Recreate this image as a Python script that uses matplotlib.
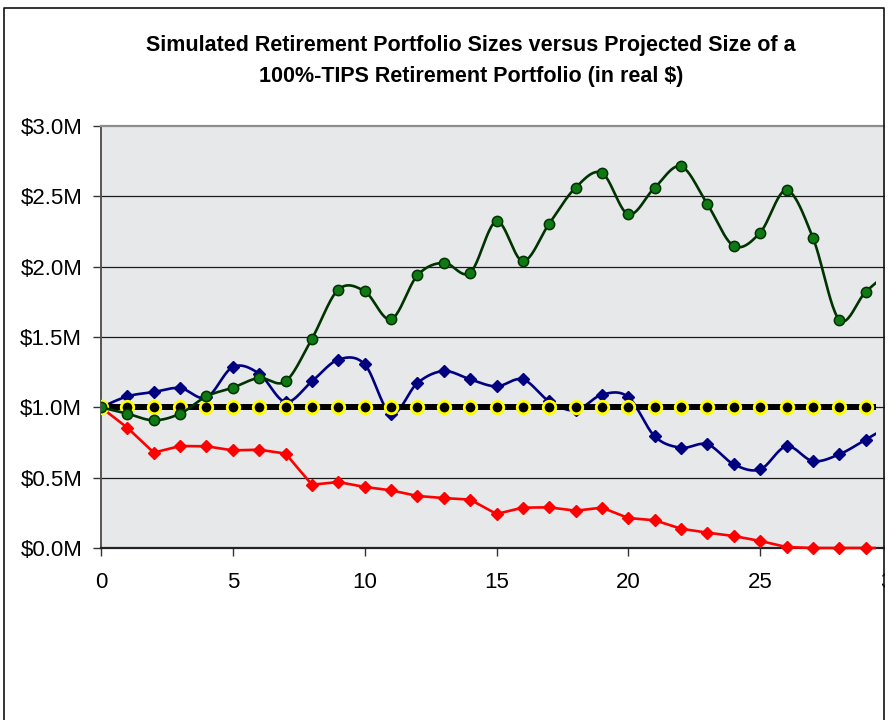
import numpy as np
import matplotlib
matplotlib.use("Agg")
import matplotlib.pyplot as plt
from matplotlib.lines import Line2D
from matplotlib.patches import Rectangle
from matplotlib.ticker import FuncFormatter, MultipleLocator

# years into retirement
years = list(range(31))

# portfolio size in $M (real)
tips = [1.0, 1.0, 1.0, 1.0, 1.0, 1.0, 1.0, 1.0, 1.0, 1.0,
        1.0, 1.0, 1.0, 1.0, 1.0, 1.0, 1.0, 1.0, 1.0, 1.0,
        1.0, 1.0, 1.0, 1.0, 1.0, 1.0, 1.0, 1.0, 1.0, 1.0, 1.0]
good = [1.000, 0.955, 0.908, 0.955, 1.078, 1.140, 1.209, 1.185, 1.488, 1.837,
        1.825, 1.626, 1.938, 2.028, 1.957, 2.322, 2.040, 2.306, 2.562, 2.666,
        2.372, 2.562, 2.713, 2.443, 2.147, 2.242, 2.543, 2.206, 1.623, 1.820, 1.98]
middle = [1.000, 1.078, 1.109, 1.137, 1.070, 1.287, 1.239, 1.038, 1.185, 1.339,
          1.306, 0.955, 1.173, 1.258, 1.199, 1.149, 1.199, 1.043, 0.979, 1.090,
          1.073, 0.794, 0.713, 0.737, 0.595, 0.559, 0.723, 0.618, 0.666, 0.770, 0.88]
bad = [1.000, 0.855, 0.678, 0.725, 0.723, 0.694, 0.699, 0.671, 0.450, 0.469,
       0.434, 0.410, 0.370, 0.355, 0.344, 0.242, 0.287, 0.289, 0.265, 0.287,
       0.213, 0.197, 0.137, 0.109, 0.085, 0.050, 0.007, 0.0, 0.0, 0.0, 0.0]

TITLE = ("Simulated Retirement Portfolio Sizes versus Projected Size of a\n"
         "100%-TIPS Retirement Portfolio (in real $)")


def excel_smooth(x, y, n=24):
    # bezier smoothing like excel's "smoothed line"
    pts = np.column_stack([np.asarray(x, float), np.asarray(y, float)])
    t = np.linspace(0, 1, n + 1)[1:, None]
    out = [pts[0]]
    last = len(pts) - 1
    for i in range(last):
        p0 = pts[max(i - 1, 0)]
        p1 = pts[i]
        p2 = pts[i + 1]
        p3 = pts[min(i + 2, last)]
        c1 = p1 + (p2 - p0) / 6
        c2 = p2 - (p3 - p1) / 6
        seg = ((1 - t) ** 3) * p1 + 3 * ((1 - t) ** 2) * t * c1 \
            + 3 * (1 - t) * t ** 2 * c2 + t ** 3 * p2
        out.extend(seg)
    out = np.array(out)
    return out[:, 0], out[:, 1]


plt.rcParams['font.family'] = ['Liberation Sans', 'DejaVu Sans']

W, H = 888, 720
fig = plt.figure(figsize=(W / 100, H / 100), dpi=100)
fig.patch.set_facecolor('white')

# plot area: x=0 at px 101, x=30 at px 892 (chart is cut off at the right)
ax = fig.add_axes([101 / W, (H - 548) / H, (892 - 101) / W, (548 - 126) / H])
ax.set_facecolor('#e6e8ea')

clip = Rectangle((0, -1), 29.4, 6, transform=ax.transData)

for v in [0.5, 1.0, 1.5, 2.0, 2.5]:
    ax.axhline(v, color='#1a1a1a', lw=0.9, zorder=1)

# bad case - straight segments
l, = ax.plot(years, bad, color='#ff0000', lw=1.9, marker='D', ms=6.2,
             mfc='#ff0000', mec='#ff0000', zorder=3)
l.set_clip_path(clip)

# middle case
sx, sy = excel_smooth(years, middle)
l, = ax.plot(sx, sy, color='#000080', lw=1.9, zorder=4)
l.set_clip_path(clip)
l, = ax.plot(years, middle, ls='none', marker='D', ms=6.2,
             mfc='#000080', mec='#000080', zorder=4)
l.set_clip_path(clip)

# 100% TIPS
l, = ax.plot(years, tips, color='black', lw=4.3, marker='o', ms=9.0,
             mfc='black', mec='#ffff00', mew=2.0, zorder=5)
l.set_clip_path(clip)

# good case
sx, sy = excel_smooth(years, good)
l, = ax.plot(sx, sy, color='#003300', lw=1.9, zorder=6)
l.set_clip_path(clip)
l, = ax.plot(years, good, ls='none', marker='o', ms=7.4,
             mfc='#0f7a14', mec='#003300', mew=1.1, zorder=6)
l.set_clip_path(clip)

ax.set_xlim(0, 30)
ax.set_ylim(0, 3.0)
ax.xaxis.set_major_locator(MultipleLocator(5))
ax.yaxis.set_major_locator(MultipleLocator(0.5))
ax.yaxis.set_major_formatter(FuncFormatter(lambda v, p: f"${v:.1f}M"))

ax.tick_params(axis='both', direction='out', length=5.5, width=1.0,
               color='#333333', labelsize=16, labelcolor='black')
ax.tick_params(axis='x', pad=12)
ax.tick_params(axis='y', pad=8)

ax.spines['right'].set_visible(False)
ax.spines['top'].set_color('#8c8c8c')
ax.spines['top'].set_linewidth(1.6)
ax.spines['left'].set_color('#555555')
ax.spines['left'].set_linewidth(1.4)
ax.spines['bottom'].set_color('#222222')
ax.spines['bottom'].set_linewidth(1.6)

fig.text(471 / W, 1 - 61 / H, TITLE, ha='center', va='center',
         fontsize=15.5, fontweight='bold', linespacing=1.6,
         family=['Liberation Sans Narrow', 'Liberation Sans', 'DejaVu Sans'])

# chart is cropped at the right: white strip plus chart border
fig.patches.append(Rectangle((885 / W, 0), 1, 1, transform=fig.transFigure,
                             facecolor='white', edgecolor='none', zorder=10))
bx0, bx1, by1 = 4 / W, 884 / W, 1 - 8 / H
fig.lines.append(Line2D([bx0, bx0, bx1, bx1], [0, by1, by1, 0],
                        transform=fig.transFigure, color='#111111', lw=1.2,
                        zorder=11))

fig.savefig('out.png', dpi=100)
